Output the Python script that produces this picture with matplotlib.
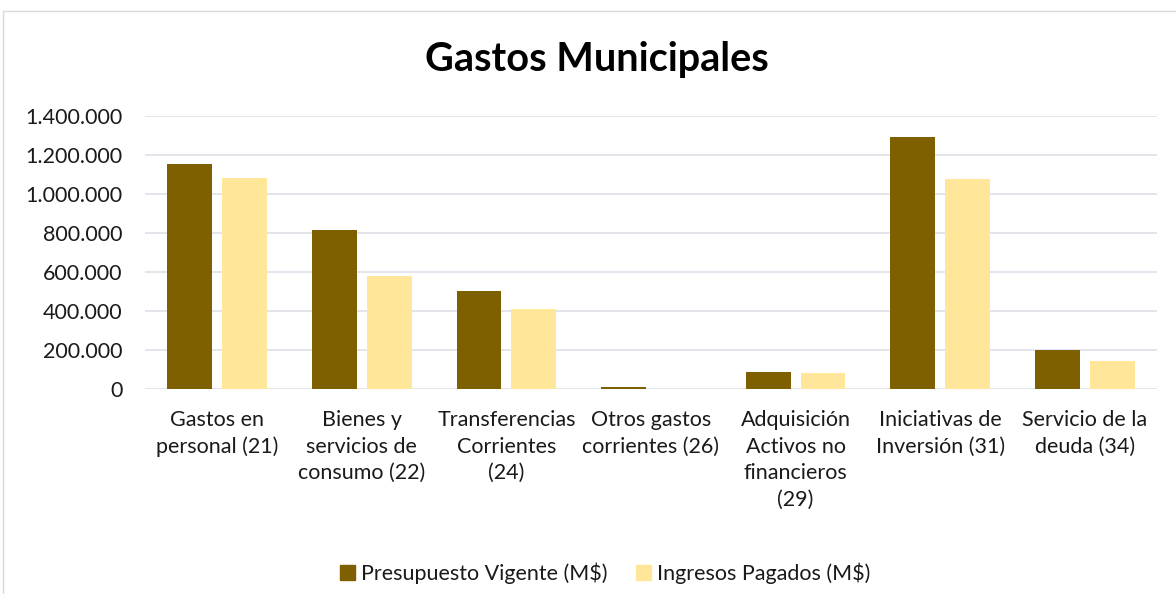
import matplotlib
matplotlib.use("Agg")
import matplotlib.pyplot as plt
import numpy as np
from matplotlib.patches import Rectangle, Patch
from matplotlib.ticker import FuncFormatter

categories = ["Gastos en\npersonal (21)", "Bienes y\nservicios de\nconsumo (22)",
              "Transferencias\nCorrientes\n(24)", "Otros gastos\ncorrientes (26)",
              "Adquisición\nActivos no\nfinancieros\n(29)", "Iniciativas de\nInversión (31)",
              "Servicio de la\ndeuda (34)"]
presupuesto = [1153000, 815000, 502000, 10000, 87000, 1292000, 198000]
pagados = [1082000, 578000, 408000, 1000, 82000, 1077000, 143000]
series_names = ["Presupuesto Vigente (M$)", "Ingresos Pagados (M$)"]
yticks = [0, 200000, 400000, 600000, 800000, 1000000, 1200000, 1400000]

plt.rcParams['font.family'] = ['Lato', 'DejaVu Sans']
c_dark = "#7f6000"
c_light = "#ffe699"
grid_c = "#dfe3ea"
txt_c = "#1a1a1a"

fig = plt.figure(figsize=(11.76, 5.94), dpi=100)
ax = fig.add_axes([145/1176, 1-389/594, (1157-145)/1176, (389-116)/594])

# chart border
fig.patches.append(Rectangle((3/1176, -0.1), 1.2, 1-11/594+0.1, transform=fig.transFigure,
                             fill=False, edgecolor="#d9d9d9", linewidth=1.0))

x = np.arange(len(categories))
w = 0.31
ax.bar(x - 0.19, presupuesto, width=w, color=c_dark, zorder=3)
ax.bar(x + 0.19, pagados, width=w, color=c_light, zorder=3)

ax.set_xlim(-0.5, len(categories) - 0.5)
ax.set_ylim(0, 1400000)
ax.set_yticks(yticks)
ax.yaxis.set_major_formatter(FuncFormatter(lambda v, p: f"{int(v):,}".replace(",", ".")))
ax.grid(axis="y", color=grid_c, linewidth=1.3, zorder=0)
ax.set_axisbelow(True)
for s in ax.spines.values():
    s.set_visible(False)
ax.tick_params(axis="both", length=0, labelsize=15.5, labelcolor=txt_c)
ax.tick_params(axis="y", pad=16)
ax.tick_params(axis="x", pad=15)
ax.set_xticks(x)
ax.set_xticklabels(categories, linespacing=1.42)

fig.text(597/1176, 1-60/594, "Gastos Municipales", ha="center", va="center",
         fontsize=28.5, fontweight="bold", color="#000000")

handles = [Patch(color=c_dark), Patch(color=c_light)]
fig.legend(handles, series_names, loc="center", bbox_to_anchor=(605/1176, 1-573/594),
           ncol=2, frameon=False, fontsize=15.5, handlelength=0.7, handleheight=0.7,
           handletextpad=0.3, columnspacing=1.3, labelcolor=txt_c)

fig.savefig("out.png", dpi=100)
